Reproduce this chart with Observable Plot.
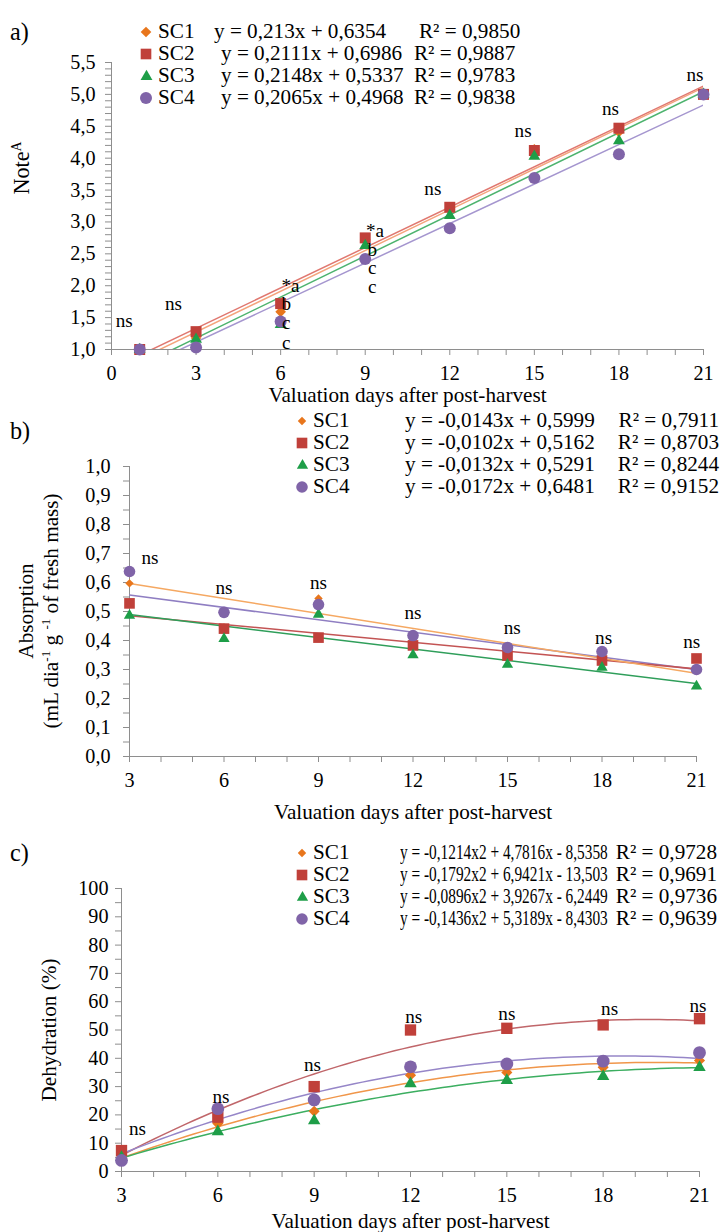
<!DOCTYPE html>
<html><head><meta charset="utf-8">
<script src="https://cdn.jsdelivr.net/npm/d3@7"></script>
<script src="https://cdn.jsdelivr.net/npm/@observablehq/plot@0.6"></script>
<style>
html,body{margin:0;padding:0;background:#fff;}
#root{position:relative;width:722px;height:1232px;overflow:hidden;color:#000;}
.panel{position:absolute;left:0;}
.lbl{position:absolute;white-space:nowrap;line-height:1;}
.rot{position:absolute;white-space:nowrap;line-height:1.2;text-align:center;transform:translate(-50%,-50%) rotate(-90deg);}
sup{font-size:0.62em;vertical-align:0.55em;line-height:0;}
</style></head><body><div id="root"></div>
<script>
// ---------- shared series info ----------
const seriesNames = ["SC1", "SC2", "SC3", "SC4"];
const seriesFill = ["#E8761C", "#C0403A", "#1E9E48", "#8064A8"];
const seriesSymbol = ["diamond2", "square", "triangle", "circle"];

// ---------- panel a: Note ----------
const daysA = [1, 3, 6, 9, 12, 15, 18, 21];
const noteSC1 = [1.0, 1.18, 1.59, 2.72, 3.20, 4.14, 4.41, 5.0];
const noteSC2 = [1.0, 1.28, 1.72, 2.75, 3.23, 4.12, 4.47, 5.0];
const noteSC3 = [1.0, 1.16, 1.39, 2.63, 3.10, 4.03, 4.27, 5.0];
const noteSC4 = [1.0, 1.03, 1.44, 2.42, 2.90, 3.69, 4.06, 5.0];
const noteSlope = [0.213, 0.2111, 0.2148, 0.2065];
const noteIntercept = [0.6354, 0.6986, 0.5337, 0.4968];
const noteLineColor = ["#F4A47C", "#E07870", "#4DB36E", "#A596CF"];
const noteEq = ["y = 0,213x + 0,6354", "y = 0,2111x + 0,6986", "y = 0,2148x + 0,5337", "y = 0,2065x + 0,4968"];
const noteR2 = ["R² = 0,9850", "R² = 0,9887", "R² = 0,9783", "R² = 0,9838"];
const noteTicksX = [0, 3, 6, 9, 12, 15, 18, 21];
const noteTicksY = [1.0, 1.5, 2.0, 2.5, 3.0, 3.5, 4.0, 4.5, 5.0, 5.5];
const noteAnnText = ["ns", "ns", "*a", "b", "c", "c", "*a", "b", "c", "c", "ns", "ns", "ns", "ns"];
const noteAnnX = [0.45, 2.2, 6.35, 6.2, 6.2, 6.2, 9.35, 9.25, 9.25, 9.25, 11.4, 14.6, 17.7, 20.7];
const noteAnnY = [1.45, 1.72, 2.0, 1.72, 1.42, 1.11, 2.86, 2.57, 2.28, 1.98, 3.52, 4.43, 4.78, 5.3];

// ---------- panel b: Absorption ----------
const daysB = [3, 6, 9, 12, 15, 18, 21];
const absSC1 = [0.597, 0.445, 0.545, 0.390, 0.355, 0.335, 0.295];
const absSC2 = [0.528, 0.441, 0.410, 0.383, 0.348, 0.331, 0.338];
const absSC3 = [0.486, 0.406, 0.490, 0.350, 0.317, 0.307, 0.242];
const absSC4 = [0.638, 0.497, 0.524, 0.417, 0.376, 0.362, 0.300];
const absSlope = [-0.0143, -0.0102, -0.0132, -0.0172];
const absIntercept = [0.5999, 0.5162, 0.5291, 0.6481];
// in the picture the SC1 and SC4 fitted lines are drawn in each other's colour
const absLineColor = ["#8F7EC2", "#C35454", "#2F9E5A", "#F5A862"];
const absEq = ["y = -0,0143x + 0,5999", "y = -0,0102x + 0,5162", "y = -0,0132x + 0,5291", "y = -0,0172x + 0,6481"];
const absR2 = ["R² = 0,7911", "R² = 0,8703", "R² = 0,8244", "R² = 0,9152"];
const absTicksX = [3, 6, 9, 12, 15, 18, 21];
const absTicksY = [0.0, 0.1, 0.2, 0.3, 0.4, 0.5, 0.6, 0.7, 0.8, 0.9, 1.0];
const absAnnText = ["ns", "ns", "ns", "ns", "ns", "ns", "ns"];
const absAnnX = [3.65, 6.0, 9.0, 12.0, 15.15, 18.05, 20.85];
const absAnnY = [0.685, 0.58, 0.60, 0.497, 0.445, 0.41, 0.394];

// ---------- panel c: Dehydration ----------
const daysC = [3, 6, 9, 12, 15, 18, 21];
const dehSC1 = [5.0, 17.0, 21.3, 34.0, 35.0, 36.8, 39.2];
const dehSC2 = [7.4, 19.2, 30.0, 50.0, 50.6, 51.8, 54.0];
const dehSC3 = [5.0, 14.1, 18.0, 31.0, 32.2, 33.6, 36.8];
const dehSC4 = [3.9, 22.2, 25.3, 37.0, 38.0, 39.0, 42.0];
const dehA = [-0.1214, -0.1792, -0.0896, -0.1436];
const dehB = [4.7816, 6.9421, 3.9267, 5.3189];
const dehC = [-8.5358, -13.503, -6.2449, -8.4303];
const dehLineColor = ["#F0964A", "#C0666A", "#3CAE60", "#9686C8"];
const dehEq = ["y = -0,1214x2 + 4,7816x - 8,5358", "y = -0,1792x2 + 6,9421x - 13,503", "y = -0,0896x2 + 3,9267x - 6,2449", "y = -0,1436x2 + 5,3189x - 8,4303"];
const dehR2 = ["R² = 0,9728", "R² = 0,9691", "R² = 0,9736", "R² = 0,9639"];
const dehTicksX = [3, 6, 9, 12, 15, 18, 21];
const dehTicksY = [0, 10, 20, 30, 40, 50, 60, 70, 80, 90, 100];
const dehAnnText = ["ns", "ns", "ns", "ns", "ns", "ns", "ns"];
const dehAnnX = [3.5, 6.1, 8.95, 12.1, 15.0, 18.2, 20.95];
const dehAnnY = [15.0, 26.5, 37.8, 54.8, 55.8, 57.6, 58.6];

const xLabel = "Valuation days after post-harvest";
const AX = "#8E8E8E";
const root = document.getElementById("root");
const comma1 = d => d.toFixed(1).replace(".", ",");

// ---------- pick a Times-like serif that is really installed ----------
function hasFont(name) {
  const c = document.createElement("canvas").getContext("2d");
  const s = "Valuation days after post-harvest 0123456789 mmmwwwiii";
  c.font = "40px monospace"; const wm = c.measureText(s).width;
  c.font = `40px "${name}", monospace`; const w1 = c.measureText(s).width;
  c.font = "40px sans-serif"; const ws = c.measureText(s).width;
  c.font = `40px "${name}", sans-serif`; const w2 = c.measureText(s).width;
  return Math.abs(w1 - wm) > 0.5 && Math.abs(w2 - ws) > 0.5;
}
const serifCandidates = ["Liberation Serif", "Tinos", "Times New Roman", "Nimbus Roman", "Nimbus Roman No9 L", "FreeSerif", "DejaVu Serif", "Noto Serif", "Lato"];
const chosen = serifCandidates.find(hasFont) || "serif";
const FONT = `"${chosen}", serif`;
root.style.fontFamily = FONT;
const K = (() => {
  const c = document.createElement("canvas").getContext("2d");
  c.font = `100px ${FONT}`;
  const w = c.measureText(xLabel).width;
  return Math.max(0.7, Math.min(1.1, 1324.7 / w));
})();
const fs = v => +(v * K).toFixed(2);

function rowsOf(days, vals) { return days.map((x, i) => ({x, y: vals[i]})); }

function makePanel(cfg) {
  const marks = [];
  marks.push(Plot.ruleX([cfg.xDomain[0]], {stroke: AX, strokeWidth: 1}));
  marks.push(Plot.ruleY([cfg.yDomain[0]], {stroke: AX, strokeWidth: 1}));
  marks.push(Plot.axisX({ticks: cfg.xMinor, tickSize: 6, stroke: AX, color: AX, tickFormat: () => "", label: null}));
  marks.push(Plot.axisX({ticks: cfg.xTicks, tickSize: 0, tickPadding: 16, tickFormat: d => String(d), label: null, fill: "#000", fontSize: fs(20)}));
  marks.push(Plot.axisY({ticks: cfg.yMinor, tickSize: 6, stroke: AX, color: AX, tickFormat: () => "", label: null}));
  marks.push(Plot.axisY({ticks: cfg.yTicks, tickSize: 0, tickPadding: cfg.yPad, tickFormat: cfg.yFmt, label: null, fill: "#000", fontSize: fs(20)}));
  cfg.lines.forEach(l => marks.push(Plot.line(l.points, {x: "x", y: "y", stroke: l.color, strokeWidth: 1.5, clip: true})));
  cfg.series.forEach((vals, i) => marks.push(Plot.dot(rowsOf(cfg.days, vals), {x: "x", y: "y", symbol: seriesSymbol[i], fill: seriesFill[i], r: cfg.r[i]})));
  const ann = cfg.annText.map((t, i) => ({t, x: cfg.annX[i], y: cfg.annY[i]}));
  marks.push(Plot.text(ann, {x: "x", y: "y", text: "t", fontSize: fs(19), fill: "#000"}));
  marks.push(Plot.text([xLabel], {text: d => d, frameAnchor: "bottom", dy: cfg.xLabelDy, fontSize: fs(21), fill: "#000", lineAnchor: "middle"}));
  const svg = Plot.plot({
    width: 722, height: cfg.height,
    marginLeft: cfg.ml, marginRight: cfg.mr, marginTop: cfg.mt, marginBottom: cfg.mb,
    style: {fontFamily: FONT, fontSize: fs(20) + "px", color: "#000", background: "transparent", overflow: "visible"},
    x: {domain: cfg.xDomain}, y: {domain: cfg.yDomain},
    marks
  });
  svg.classList.add("panel");
  svg.style.top = cfg.top + "px";
  root.appendChild(svg);
}

function addText(html, left, cy, size) {
  const el = document.createElement("div");
  el.className = "lbl";
  el.innerHTML = html;
  el.style.left = left + "px";
  el.style.top = (cy - size * 0.5) + "px";
  el.style.fontSize = size + "px";
  root.appendChild(el);
  return el;
}
function addRot(html, cx, cy, size) {
  const el = document.createElement("div");
  el.className = "rot";
  el.innerHTML = html;
  el.style.left = cx + "px";
  el.style.top = cy + "px";
  el.style.fontSize = size + "px";
  root.appendChild(el);
}
const d3Sym = {diamond2: d3.symbolDiamond2, square: d3.symbolSquare, triangle: d3.symbolTriangle, circle: d3.symbolCircle};
function addMarker(i, cx, cy, r) {
  const s = Math.ceil(2 * r + 6);
  const path = d3.symbol(d3Sym[seriesSymbol[i]], r * r * Math.PI)();
  const el = document.createElement("div");
  el.style.position = "absolute";
  el.style.left = (cx - s / 2) + "px";
  el.style.top = (cy - s / 2) + "px";
  el.innerHTML = `<svg width="${s}" height="${s}" viewBox="${-s / 2} ${-s / 2} ${s} ${s}" style="display:block"><path d="${path}" fill="${seriesFill[i]}"/></svg>`;
  root.appendChild(el);
}
function addLegend(L) {
  const size = fs(L.fs);
  L.rows.forEach((cy, i) => {
    addMarker(i, L.markerX, cy, L.r[i]);
    addText(seriesNames[i], L.nameX, cy, size);
    const eq = addText(L.eq[i], L.eqX[i], cy, size);
    const r2 = addText(L.r2[i], 0, cy, size);
    const w2 = r2.getBoundingClientRect().width;
    const r2Left = L.r2Right ? L.r2Right - w2 : L.r2X[i];
    r2.style.left = r2Left + "px";
    const we = eq.getBoundingClientRect().width;
    const avail = r2Left - L.gap - L.eqX[i];
    if (we > avail) { eq.style.transformOrigin = "left center"; eq.style.transform = `scaleX(${avail / we})`; }
  });
}

// ---------- panel a ----------
makePanel({
  top: 0, height: 410, ml: 111, mr: 19, mt: 62, mb: 61,
  xDomain: [0, 21], yDomain: [1, 5.5],
  xMinor: d3.range(0, 22), xTicks: noteTicksX,
  yMinor: d3.range(10, 56).map(d => d / 10), yTicks: noteTicksY, yFmt: comma1, yPad: 16,
  days: daysA, series: [noteSC1, noteSC2, noteSC3, noteSC4], r: [4.8, 6.2, 4.4, 6.0],
  lines: noteSlope.map((a, i) => ({color: noteLineColor[i],
    points: [daysA[0], daysA[daysA.length - 1]].map(x => ({x, y: a * x + noteIntercept[i]}))})),
  annText: noteAnnText, annX: noteAnnX, annY: noteAnnY, xLabelDy: 46
});

// ---------- panel b ----------
makePanel({
  top: 410, height: 418, ml: 129, mr: 26, mt: 56, mb: 72,
  xDomain: [3, 21], yDomain: [0, 1],
  xMinor: d3.range(3, 22), xTicks: absTicksX,
  yMinor: d3.range(0, 21).map(d => d / 20), yTicks: absTicksY, yFmt: comma1, yPad: 19,
  days: daysB, series: [absSC1, absSC2, absSC3, absSC4], r: [3.8, 6.0, 4.2, 5.8],
  lines: absSlope.map((a, i) => ({color: absLineColor[i],
    points: [daysB[0], daysB[daysB.length - 1]].map(x => ({x, y: a * x + absIntercept[i]}))})),
  annText: absAnnText, annX: absAnnX, annY: absAnnY, xLabelDy: 56
});

// ---------- panel c ----------
makePanel({
  top: 828, height: 404, ml: 121, mr: 23, mt: 60, mb: 61,
  xDomain: [3, 21], yDomain: [0, 100],
  xMinor: d3.range(3, 22), xTicks: dehTicksX,
  yMinor: d3.range(0, 101, 5), yTicks: dehTicksY, yFmt: d => String(d), yPad: 13,
  days: daysC, series: [dehSC1, dehSC2, dehSC3, dehSC4], r: [5.0, 6.4, 4.6, 6.4],
  lines: dehA.map((a, i) => ({color: dehLineColor[i],
    points: d3.range(daysC[0], daysC[daysC.length - 1] + 0.001, 0.25).map(x => ({x, y: a * x * x + dehB[i] * x + dehC[i]}))})),
  annText: dehAnnText, annX: dehAnnX, annY: dehAnnY, xLabelDy: 50
});

// ---------- panel letters, y titles ----------
addText("a)", 10, 32, fs(24));
addText("b)", 10, 431, fs(24));
addText("c)", 10, 853, fs(24));
addRot("Note<sup>A</sup>", 22, 168, fs(22));
addRot("Absorption<br>(mL dia<sup>-1</sup> g <sup>-1</sup> of fresh mass)", 39, 611, fs(21));
addRot("Dehydration (%)", 50, 1030, fs(21));

// ---------- legends ----------
addLegend({rows: [32, 54, 76, 98], markerX: 146, nameX: 158, eqX: [214, 221, 221, 221], r2X: [419, 414, 414, 414],
  r: [4.8, 6.0, 4.4, 6.0], fs: 21, eq: noteEq, r2: noteR2, gap: 8});
addLegend({rows: [421, 443, 465, 487], markerX: 302, nameX: 313, eqX: [405, 405, 405, 405], r2Right: 719,
  r: [3.8, 6.0, 4.2, 5.8], fs: 21, eq: absEq, r2: absR2, gap: 8});
addLegend({rows: [853, 875, 897, 919], markerX: 302, nameX: 313, eqX: [400, 400, 400, 400], r2Right: 717,
  r: [3.8, 6.0, 4.2, 5.8], fs: 21, eq: dehEq, r2: dehR2, gap: 8});
</script></body></html>
